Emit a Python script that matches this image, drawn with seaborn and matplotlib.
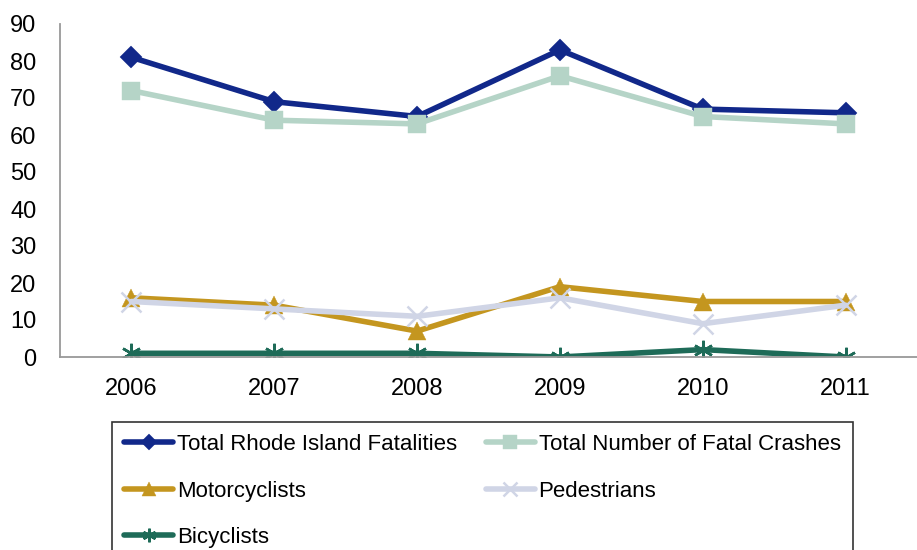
import pandas as pd
import matplotlib.pyplot as plt
import seaborn as sns

# data
years = ['2006', '2007', '2008', '2009', '2010', '2011']
fatalities = [81, 69, 65, 83, 67, 66]
fatal_crashes = [72, 64, 63, 76, 65, 63]
motorcyclists = [16, 14, 7, 19, 15, 15]
pedestrians = [15, 13, 11, 16, 9, 14]
bicyclists = [1, 1, 1, 0, 2, 0]

series = {
    'Total Rhode Island Fatalities': fatalities,
    'Total Number of Fatal Crashes': fatal_crashes,
    'Motorcyclists': motorcyclists,
    'Pedestrians': pedestrians,
    'Bicyclists': bicyclists,
}
colors = ['#11288a', '#b5d4c7', '#c4961f', '#d0d5e6', '#1e6b58']
markers = ['D', 's', '^', 'x', (6, 2, 0)]
msizes = [11, 13.5, 13.5, 14, 14]

rows = []
for name, vals in series.items():
    for i, v in enumerate(vals):
        rows.append({'Series': name, 'Pos': i, 'Value': v})
df = pd.DataFrame(rows)

sns.set_style('white')
plt.rcParams['font.family'] = ['Liberation Sans', 'DejaVu Sans']
plt.rcParams['text.color'] = 'black'
plt.rcParams['xtick.color'] = 'black'
plt.rcParams['ytick.color'] = 'black'

fig = plt.figure(figsize=(9.17, 5.5), dpi=100)
ax = fig.add_axes([60 / 917, 1 - 357 / 550, 1 - 60 / 917, 333 / 550])

for (name, _), c, m, ms in zip(series.items(), colors, markers, msizes):
    thin = m in ('x', (6, 2, 0))
    sns.lineplot(data=df[df['Series'] == name], x='Pos', y='Value', ax=ax,
                 color=c, marker=m, markersize=ms, linewidth=4,
                 markeredgecolor=c, markeredgewidth=1.8 if thin else 0.3,
                 label=name)

ax.set_xlim(-0.5, 5.44)
ax.set_ylim(0, 90)
ax.set_yticks(range(0, 91, 10))
ax.set_xticks(range(len(years)))
ax.set_xticklabels(years)
ax.set_xticks([i - 0.5 for i in range(len(years) + 1)], minor=True)
ax.tick_params(axis='x', which='major', length=0, pad=15, labelsize=17)
ax.tick_params(axis='x', which='minor', length=6, width=1.2, color='#999999', direction='out')
ax.tick_params(axis='y', length=6, width=1.2, color='#999999', labelcolor='black',
               direction='out', labelsize=17, pad=11)
ax.set_xlabel('')
ax.set_ylabel('')
for s in ['top', 'right']:
    ax.spines[s].set_visible(False)
for s in ['left', 'bottom']:
    ax.spines[s].set_color('#999999')
    ax.spines[s].set_linewidth(1.3)

# legend filled row by row, like the original
h, l = ax.get_legend_handles_labels()
order = [0, 2, 4, 1, 3]
leg = ax.legend([h[i] for i in order], [l[i] for i in order], ncol=2,
                loc='upper left', bbox_to_anchor=(112 / 917, 1 - 422 / 550),
                bbox_transform=fig.transFigure, frameon=True, fancybox=False,
                edgecolor='black', fontsize=16, handlelength=2.2, handletextpad=0.17,
                columnspacing=1.3, labelspacing=1.14, borderpad=0.55, borderaxespad=0,
                markerscale=0.7)
leg.get_frame().set_linewidth(1.2)

plt.savefig('out.png', dpi=100)
